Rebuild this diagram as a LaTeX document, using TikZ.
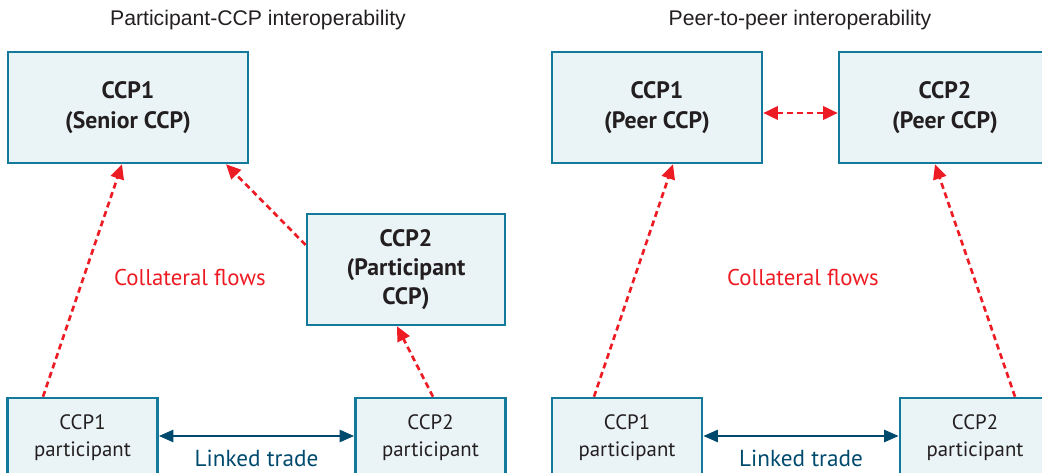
\documentclass[tikz,border=0pt]{standalone}
\usepackage{fontspec}
\setmainfont{PT Sans}
\newfontfamily\titlefont{Liberation Sans}
\usetikzlibrary{arrows.meta,calc}
\definecolor{boxfill}{HTML}{EAF3F6}
\definecolor{boxline}{HTML}{137A9B}
\definecolor{flowred}{HTML}{ED1C24}
\definecolor{tradeblue}{HTML}{004A6E}
\definecolor{inktext}{HTML}{231F20}
\begin{document}
\begin{tikzpicture}[x=0.75pt,y=-0.75pt,
  ccp/.style={draw=boxline,fill=boxfill,line width=1.9pt,align=center,inner sep=0pt,
    text=inktext,font=\bfseries\fontsize{17.8}{22.5}\selectfont,minimum height=83.25pt},
  member/.style={draw=boxline,fill=boxfill,line width=1.9pt,align=center,inner sep=0pt,
    text=inktext,font=\fontsize{15.6}{20.25}\selectfont,minimum width=112.5pt,minimum height=60pt},
  heading/.style={font=\titlefont\fontsize{15.9}{18}\selectfont,text=inktext},
  flowlabel/.style={font=\fontsize{17.1}{20}\selectfont,text=flowred},
  tradelabel/.style={font=\fontsize{17.4}{20}\selectfont,text=tradeblue},
  flow/.style={draw=flowred,line width=2pt,dash pattern=on 4.5pt off 3pt,
    -{Triangle[length=11pt,width=10pt]}},
  trade/.style={draw=tradeblue,line width=2.1pt,
    {Triangle[length=11pt,width=9pt]}-{Triangle[length=11pt,width=9pt]}}]
  \useasboundingbox (0,0) rectangle (1042,473);
  \clip (0,0) rectangle (1042,473);

  \node[heading] (t1) at (258,20) {Participant-CCP interoperability};
  \node[heading] (t2) at (800,20) {Peer-to-peer interoperability};

  \node[ccp,minimum width=180pt] (s1) at (128,107.5) {CCP1\\(Senior CCP)};
  \node[ccp,minimum width=148.5pt,font=\bfseries\fontsize{17.8}{21.75}\selectfont] (c2) at (406,269.5) {CCP2\\(Participant\\CCP)};
  \node[member] (p1) at (82.5,438) {CCP1\\participant};
  \node[member] (p2) at (430.5,438) {CCP2\\participant};

  \node[ccp,minimum width=157.5pt] (r1) at (657,107.5) {CCP1\\(Peer CCP)};
  \node[ccp,minimum width=159pt] (r2) at (945,107.5) {CCP2\\(Peer CCP)};
  \node[member] (q1) at (627,438) {CCP1\\participant};
  \node[member] (q2) at (975,438) {CCP2\\participant};

  \node[flowlabel] (f1) at (190,278) {Collateral flows};
  \node[flowlabel] (f2) at (803,278) {Collateral flows};

  \draw[flow] ($(p1.north)+(-39.5,0)$) -- ($(s1.south)+(-6,0)$);
  \draw[flow] ($(c2.west)+(0,-24.5)$) -- ($(s1.south)+(98,0)$);
  \draw[flow] ($(p2.north)+(2.5,0)$) -- ($(c2.south)+(-9,0)$);
  \draw[flow] ($(q1.north)+(-33,0)$) -- ($(r1.south)+(16,0)$);
  \draw[flow] ($(q2.north)+(40,0)$) -- ($(r2.south)+(-10,0)$);
  \draw[flow,{Triangle[length=11pt,width=10pt]}-{Triangle[length=11pt,width=10pt]}]
    ($(r1.east)+(0,5.5)$) -- ($(r2.west)+(0,5.5)$);

  \draw[trade] ($(p1.east)+(0,-2)$) -- node[midway,yshift=-16.5pt,tradelabel] {Linked trade} ($(p2.west)+(0,-2)$);
  \draw[trade] ($(q1.east)+(0,-2)$) -- node[midway,yshift=-16.5pt,tradelabel] {Linked trade} ($(q2.west)+(0,-2)$);
\end{tikzpicture}
\end{document}
